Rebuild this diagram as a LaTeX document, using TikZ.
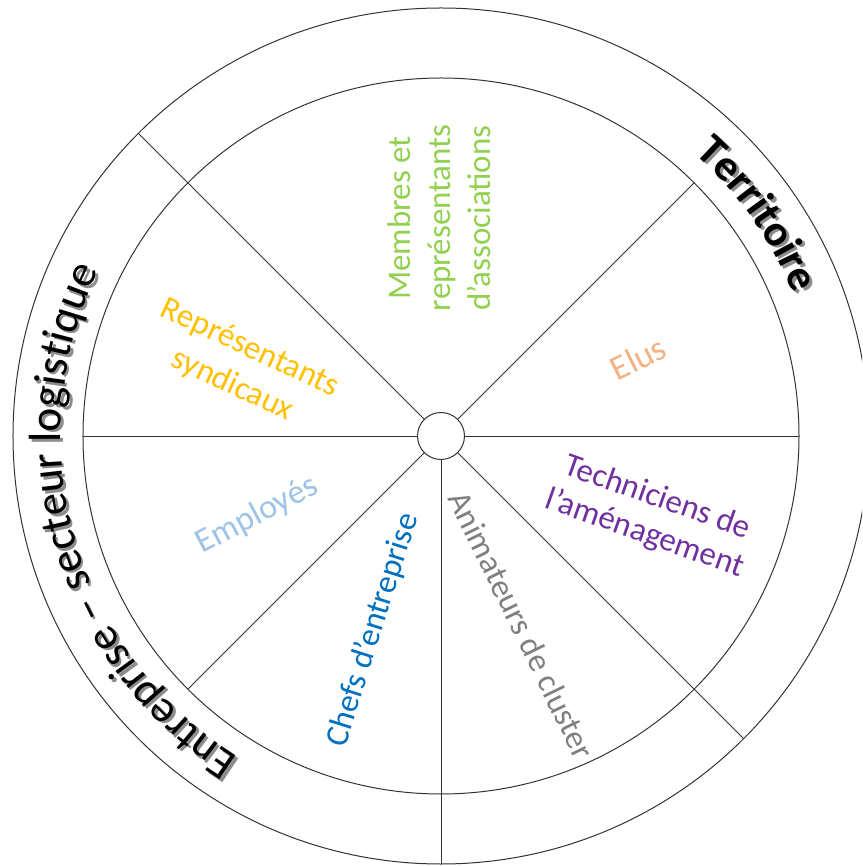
\documentclass[tikz,border=0pt]{standalone}
\usepackage{fontspec}
\setmainfont{Carlito}
\usetikzlibrary{decorations.text}
\definecolor{cgreen}{HTML}{92D050}
\definecolor{csalmon}{HTML}{F4B183}
\definecolor{cpurple}{HTML}{7030A0}
\definecolor{cgray}{HTML}{7F7F7F}
\definecolor{cblue}{HTML}{0070C0}
\definecolor{clblue}{HTML}{9DC3E6}
\definecolor{cgold}{HTML}{FFC000}
\definecolor{cline}{HTML}{333333}
\definecolor{cshadow}{HTML}{8C8C8C}
\begin{document}
\begin{tikzpicture}[x=1pt,y=1pt,
  ring/.style={draw=cline, line width=1pt},
  spoke/.style={draw=cline, line width=0.9pt},
  lbl/.style={font=\fontsize{33}{40}\selectfont, inner sep=0pt, align=center},
  terr/.style={decorate, decoration={text along path, text align=center,
     text={|\fontsize{44}{44}\selectfont\bfseries\color{#1}|Territoire}}},
  entr/.style={decorate, decoration={text along path, text align=center,
     text={|\fontsize{45}{45}\selectfont\color{#1}|Entreprise – secteur logistique}}},
  ]
\useasboundingbox (-441,-430) rectangle (421,436);
\clip (-441,-430) rectangle (421,436);
\coordinate (O) at (0,0);
\path[ring] (O) circle[radius=428];
\path[ring] (O) circle[radius=358];
% end points of the spokes
\coordinate (e0) at (0:358);
\coordinate (e45) at (45:358);
\coordinate (e135) at (135:428);
\coordinate (e180) at (180:358);
\coordinate (e225) at (225:358);
\coordinate (e270) at (270:428);
\coordinate (e315) at (315:428);
\node[circle, draw=cline, line width=1pt, fill=white, minimum size=47pt, inner sep=0pt] (c) at (O) {};
\foreach \a in {0,45,135,180,225,270,315} {
  \path[spoke] (c.\a) -- (e\a);
}
% sector labels
\node[lbl, text=cgreen, rotate=90] (memb) at (-2,218) {Membres et\\représentants\\d’associations};
\node[lbl, text=csalmon, rotate=26.6, font=\fontsize{35}{40}\selectfont] (elus) at (197,78) {Elus};
\node[lbl, text=cpurple, rotate=-19.5, font=\fontsize{33}{38}\selectfont] (tech) at (210,-80) {Techniciens de\\l’aménagement};
\node[lbl, text=cgray, rotate=-64] (anim) at (81,-189) {Animateurs de cluster};
\node[lbl, text=cblue, rotate=72.5] (chefs) at (-68,-194) {Chefs d’entreprise};
\node[lbl, text=clblue, rotate=27.8, font=\fontsize{34}{40}\selectfont] (empl) at (-184,-79) {Employés};
\node[lbl, text=cgold, rotate=-25, font=\fontsize{33}{41}\selectfont] (repr) at (-200,69) {Représentants\\syndicaux};
% ring labels (grey shadow first, then black text)
\begin{scope}[shift={(2.5,-2.5)}]
  \path[terr=cshadow] (60:380) arc[start angle=60, end angle=10, radius=380];
  \path[entr=cshadow] (266:380) arc[start angle=266, end angle=126, radius=380];
\end{scope}
\path[terr=black] (60:380) arc[start angle=60, end angle=10, radius=380];
\path[entr=black] (266:380) arc[start angle=266, end angle=126, radius=380];
\end{tikzpicture}
\end{document}
